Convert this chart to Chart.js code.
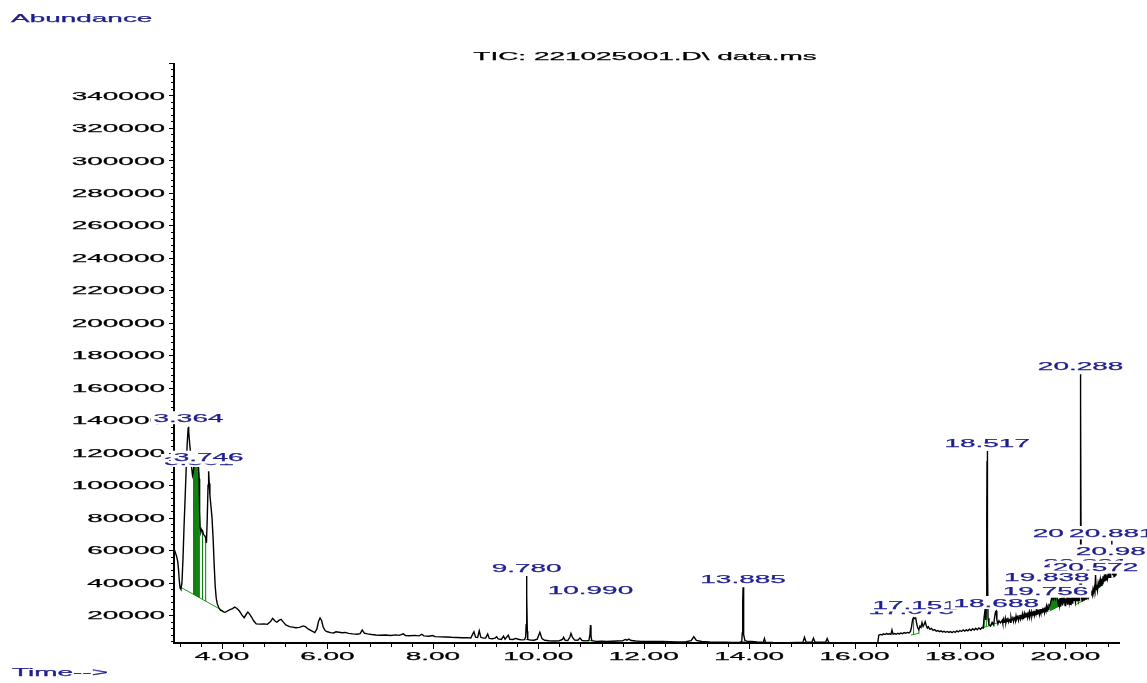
<!DOCTYPE html>
<html>
<head>
<meta charset="utf-8">
<script src="https://cdn.jsdelivr.net/npm/chart.js@4.4.1/dist/chart.umd.min.js"></script>
<style>
  html, body { margin: 0; padding: 0; background: #fff; overflow: hidden; }
  canvas { display: block; }
</style>
</head>
<body>
<canvas id="tic" width="1147" height="683"></canvas>
<script>
// ---- Total ion chromatogram: [retention time (min), abundance] ----
const solventFront = [
  [3.100, 60000], [3.120, 58000], [3.140, 56000], [3.160, 53000], [3.175, 48000], [3.190, 41000],
  [3.205, 36500], [3.220, 35800], [3.240, 40000], [3.260, 55000], [3.280, 75000], [3.300, 92000],
  [3.320, 110000], [3.340, 126000], [3.355, 134000], [3.364, 136000], [3.372, 133000], [3.385, 126000],
  [3.400, 121000], [3.420, 112000], [3.440, 106000], [3.455, 108000], [3.470, 113000], [3.490, 117000],
  [3.510, 118000], [3.530, 116000], [3.550, 114000], [3.565, 104000], [3.575, 84000], [3.585, 74000],
  [3.600, 71000], [3.615, 72500], [3.630, 72000], [3.650, 69500], [3.670, 69000], [3.690, 67500],
  [3.705, 64500], [3.720, 80000], [3.735, 100000], [3.746, 108600], [3.758, 101000], [3.770, 94000],
  [3.790, 87000], [3.810, 80000], [3.830, 68000], [3.850, 52000], [3.870, 38000], [3.890, 30500],
  [3.910, 27000], [3.940, 24500], [3.970, 23000], [4.000, 22600], [4.030, 22000], [4.060, 21700]
];
const earlyRun = [
  [4.100, 22500], [4.150, 23300], [4.200, 24000], [4.240, 24900], [4.280, 24200], [4.330, 22500],
  [4.380, 20000], [4.420, 18400], [4.460, 20500], [4.490, 21800], [4.530, 20300], [4.560, 18800],
  [4.600, 16500], [4.650, 14600], [4.720, 14400], [4.800, 14600], [4.860, 14300], [4.920, 16000],
  [4.960, 18000], [5.000, 16500], [5.040, 15600], [5.080, 16700], [5.120, 17400], [5.160, 15800],
  [5.210, 13900], [5.280, 12900], [5.340, 12600], [5.400, 12200], [5.470, 12400], [5.540, 13300],
  [5.580, 12900], [5.640, 11300], [5.700, 10200], [5.760, 9200], [5.800, 11500], [5.830, 16000],
  [5.860, 18200], [5.890, 16500], [5.920, 12500], [5.960, 10300], [6.000, 9700], [6.060, 9200],
  [6.120, 9000], [6.160, 9700], [6.220, 9400], [6.280, 9100], [6.340, 9300], [6.400, 8700],
  [6.480, 8400], [6.560, 8200], [6.620, 8600], [6.660, 10800], [6.700, 8900], [6.760, 8400],
  [6.840, 8000], [6.920, 7700], [7.000, 7600], [7.100, 7700], [7.200, 7400], [7.300, 7800],
  [7.360, 7500], [7.440, 8400], [7.480, 7400], [7.560, 7300], [7.660, 7500], [7.740, 7200],
  [7.790, 8200], [7.830, 7200], [7.920, 7000], [8.000, 7400], [8.040, 6700], [8.150, 6600],
  [8.250, 6500], [8.350, 6300], [8.450, 6200], [8.550, 6000], [8.650, 6100], [8.720, 5900],
  [8.760, 8600], [8.780, 9700], [8.810, 6400], [8.850, 6200], [8.880, 10300], [8.910, 6300],
  [8.960, 5800], [9.000, 5900], [9.040, 8300], [9.070, 5600], [9.130, 5400], [9.180, 5800],
  [9.210, 6600], [9.240, 5300], [9.300, 5000], [9.340, 7000], [9.370, 5200], [9.430, 7700],
  [9.460, 5100], [9.520, 5000], [9.570, 5600], [9.620, 5100], [9.680, 4700], [9.740, 4900],
  [9.760, 6500], [9.770, 14000], [9.776, 36000], [9.780, 44000], [9.785, 32000], [9.792, 10000],
  [9.800, 5000], [9.850, 4600], [9.920, 4500], [9.980, 5200], [10.030, 9400], [10.070, 5500],
  [10.120, 4500], [10.200, 4200], [10.300, 4000], [10.400, 4200], [10.460, 5000], [10.480, 6300],
  [10.510, 4400], [10.560, 4300], [10.600, 6500], [10.620, 8700], [10.650, 6200], [10.690, 4600],
  [10.750, 4500], [10.790, 5800], [10.830, 4300], [10.900, 4100], [10.960, 4300], [10.980, 8000],
  [10.990, 13800], [11.000, 7000], [11.015, 4300], [11.100, 3800]
];
const midRun = [
  [11.200, 3900], [11.300, 3800], [11.400, 3900], [11.500, 4000], [11.600, 4100], [11.650, 5000],
  [11.680, 4500], [11.720, 5200], [11.760, 4300], [11.850, 4000], [11.950, 3800], [12.050, 3700],
  [12.200, 3800], [12.350, 3700], [12.500, 3600], [12.650, 3500], [12.800, 3600], [12.900, 4200],
  [12.950, 6600], [13.000, 4400], [13.100, 3700], [13.250, 3400], [13.400, 3300], [13.550, 3300],
  [13.700, 3200], [13.820, 3300], [13.860, 3600], [13.870, 9000], [13.878, 28000], [13.885, 37200],
  [13.892, 26000], [13.900, 8000], [13.920, 4300], [13.960, 3900], [14.050, 3700], [14.150, 3400],
  [14.270, 3300], [14.290, 5600], [14.310, 3300], [14.450, 3100], [14.600, 3000], [14.750, 3000],
  [14.900, 3100], [15.020, 3200], [15.050, 6300], [15.080, 3400], [15.190, 3300], [15.220, 5800],
  [15.250, 3300], [15.450, 3300], [15.480, 5600], [15.510, 3200], [15.650, 3000], [15.850, 2900],
  [16.050, 2900], [16.250, 2850], [16.440, 2850]
];
const lateRun = [
  [16.460, 7600], [16.490, 8100], [16.520, 7800], [16.550, 8400], [16.580, 8000], [16.610, 8700],
  [16.630, 8200], [16.660, 8500], [16.690, 8100], [16.710, 10800], [16.730, 8300], [16.760, 8600],
  [16.790, 8200], [16.820, 8800], [16.850, 8400], [16.880, 8900], [16.910, 8500], [16.940, 9200],
  [16.970, 8800], [17.000, 9300], [17.030, 9000], [17.060, 9800], [17.080, 12500], [17.100, 17000],
  [17.120, 18600], [17.140, 17800], [17.160, 18200], [17.180, 14500], [17.200, 12000], [17.220, 11000],
  [17.240, 13200], [17.260, 12400], [17.280, 15300], [17.300, 13000], [17.320, 14200], [17.340, 15900],
  [17.360, 13500], [17.380, 12000], [17.400, 12800], [17.430, 11200], [17.460, 11800], [17.490, 10600],
  [17.520, 11000], [17.550, 10100], [17.580, 10500], [17.610, 9800], [17.640, 10300], [17.670, 9600],
  [17.700, 10000], [17.730, 9400], [17.760, 9900], [17.790, 9300], [17.820, 9800], [17.850, 9200],
  [17.880, 9900], [17.910, 9400], [17.940, 10300], [17.970, 9700], [18.000, 10500], [18.030, 9900],
  [18.060, 10800], [18.090, 10100], [18.120, 10900], [18.150, 10300], [18.180, 11300], [18.210, 10500],
  [18.240, 11600], [18.270, 10800], [18.300, 11900], [18.330, 11000], [18.360, 12100], [18.390, 11300],
  [18.420, 12400], [18.440, 12000], [18.460, 19000], [18.475, 23000], [18.490, 17000], [18.500, 28000],
  [18.508, 80000], [18.513, 115000], [18.517, 121000], [18.521, 112000], [18.526, 60000], [18.532, 18000],
  [18.550, 14000], [18.580, 13200], [18.610, 15500], [18.640, 13800], [18.660, 19500], [18.675, 22000],
  [18.688, 22500], [18.700, 17000], [18.720, 14500], [18.740, 16500], [18.770, 15200]
];
const tailRun = [
  [18.800, 16800], [18.812, 14900], [18.824, 17300], [18.836, 15600], [18.848, 16200], [18.860, 18100],
  [18.872, 15300], [18.884, 17000], [18.896, 16100], [18.908, 18400], [18.920, 15800], [18.932, 16900],
  [18.944, 17800], [18.956, 15500], [18.968, 18600], [18.980, 16700], [18.992, 17400], [19.004, 19100],
  [19.016, 16200], [19.028, 17800], [19.040, 18900], [19.052, 16600], [19.064, 19400], [19.076, 17300],
  [19.088, 18100], [19.100, 19900], [19.112, 16900], [19.124, 18600], [19.136, 20100], [19.148, 17600],
  [19.160, 19200], [19.172, 18300], [19.184, 20600], [19.196, 17800], [19.208, 19500], [19.220, 21000],
  [19.232, 18200], [19.244, 20300], [19.256, 19100], [19.268, 21400], [19.280, 18600], [19.292, 20800],
  [19.304, 19600], [19.316, 21900], [19.328, 19000], [19.340, 20400], [19.352, 22100], [19.364, 19300],
  [19.376, 21200], [19.388, 20000], [19.400, 22600], [19.412, 19700], [19.424, 21500], [19.436, 20600],
  [19.448, 23000], [19.460, 20100], [19.472, 22300], [19.484, 21000], [19.496, 23400], [19.508, 20500],
  [19.520, 22800], [19.532, 21400], [19.544, 23900], [19.556, 21000], [19.568, 23200], [19.580, 22000],
  [19.592, 24500], [19.604, 21600], [19.616, 23800], [19.628, 22700], [19.640, 25200], [19.652, 22400],
  [19.664, 24600], [19.676, 23500], [19.688, 26000], [19.700, 25500], [19.720, 27500], [19.740, 30500],
  [19.756, 31000], [19.770, 29500], [19.790, 31500], [19.810, 30000], [19.825, 34000], [19.838, 38500],
  [19.850, 30000], [19.862, 25500], [19.874, 29800], [19.886, 26300], [19.898, 30500], [19.910, 25200],
  [19.922, 28900], [19.934, 31000], [19.946, 26000], [19.958, 29600], [19.970, 27200], [19.982, 31300],
  [19.994, 25800], [20.006, 30200], [20.018, 27600], [20.030, 31500], [20.042, 26400], [20.054, 29900],
  [20.066, 28100], [20.078, 31800], [20.090, 26700], [20.102, 30600], [20.114, 28400], [20.126, 32000],
  [20.138, 27000], [20.150, 30900], [20.162, 28800], [20.174, 31600], [20.190, 28000], [20.202, 31200],
  [20.214, 28600], [20.226, 30700], [20.238, 29200], [20.250, 31400], [20.262, 28900], [20.270, 29500],
  [20.278, 42000], [20.283, 140000], [20.288, 168300], [20.293, 150000], [20.298, 60000], [20.305, 31000],
  [20.316, 28800], [20.328, 32300], [20.340, 29600], [20.352, 31900], [20.364, 30200], [20.380, 32200],
  [20.392, 29800], [20.404, 33000], [20.416, 30600], [20.428, 32900], [20.440, 31200], [20.452, 34100],
  [20.464, 31500], [20.476, 33800], [20.488, 32300], [20.500, 35200], [20.512, 32600], [20.524, 35800],
  [20.536, 33900], [20.548, 36600], [20.560, 34800], [20.572, 44600], [20.584, 35800], [20.596, 38600],
  [20.608, 35400], [20.620, 39300], [20.632, 36800], [20.644, 40100], [20.656, 37300], [20.668, 41500],
  [20.680, 38400], [20.692, 42300], [20.704, 39000], [20.716, 43800], [20.728, 40200], [20.740, 44900],
  [20.752, 41300], [20.764, 45200], [20.776, 41800], [20.788, 44600], [20.800, 42500], [20.812, 45800],
  [20.824, 42900], [20.836, 46000], [20.848, 43200], [20.860, 45100], [20.875, 58000], [20.881, 65800],
  [20.888, 50000], [20.900, 44500], [20.912, 46500], [20.924, 43800], [20.936, 47200], [20.948, 44600],
  [20.960, 47800], [20.975, 52000], [20.981, 54500], [20.990, 47500], [21.000, 46500]
];

// ---- Integration: baselines [t1, v1, t2, v2] and drop lines ----
const baselineSegs = [
  [3.203, 37400, 4.025, 22500], [9.765, 4900, 9.800, 4900], [10.975, 4300, 11.015, 4300],
  [13.860, 3400, 13.920, 3700], [17.070, 7700, 17.230, 8800], [18.440, 12200, 18.770, 15900],
  [19.700, 22500, 19.880, 25500], [20.200, 26500, 20.460, 31000], [20.520, 33500, 20.720, 39000],
  [20.900, 43000, 21.000, 46500]
];
const dropTimes = [3.46, 3.47, 3.48, 3.49, 3.50, 3.51, 3.52, 3.53, 3.54, 3.55, 3.56, 3.57, 3.63, 3.69,
  17.12, 17.22, 18.46, 18.50,
  19.72, 19.73, 19.74, 19.75, 19.76, 19.77, 19.78, 19.79, 19.80, 19.81, 19.82, 19.83, 19.84,
  20.46, 20.72];
const dropTops = [109000, 113000, 115000, 117000, 117500, 118000, 117000, 116000, 115000, 114000, 108000, 94000, 72000, 67500,
  18600, 11000, 19000, 28000,
  27500, 29000, 30500, 30800, 30700, 29500, 30500, 31500, 30800, 30000, 32500, 36000, 35000,
  33500, 43500];
const dropBases = [32730, 32550, 32370, 32190, 32000, 31820, 31640, 31460, 31280, 31100, 30910, 30730, 29640, 28550,
  8040, 8730, 12400, 12900,
  22830, 23000, 23170, 23330, 23500, 23670, 23830, 24000, 24170, 24330, 24500, 24670, 24830,
  31000, 39000];

// ---- Peak annotations (retention times), in drawing order ----
const peakLabels = ['3.561', '3.364', '3.746', '9.780', '10.990', '13.885', '17.075', '17.151', '18.688',
  '18.517', '20.391', '20.572', '19.838', '19.756', '20.190', '20.881', '20.981', '20.288'];
// label placement: pixels above the apex, horizontal nudge
const labelLift  = [2, 9, 14, 8, 35, 8, 17, 13, 8.5, 8, 32, 8, 8, 6, 69.4, 8, 8, 8];
const labelShift = [0, 0, 0, 0, 0, 0, 0, 0, 0, 0, 0, 0, -10, -7, 0, 0, 1.5, 0];

// ---- Axis ticks ----
const xTickLabels = ['4.00', '6.00', '8.00', '10.00', '12.00', '14.00', '16.00', '18.00', '20.00'];
const yTickLabels = ['20000', '40000', '60000', '80000', '100000', '120000', '140000', '160000', '180000',
  '200000', '220000', '240000', '260000', '280000', '300000', '320000', '340000'];

const trace = [...solventFront, ...earlyRun, ...midRun, ...lateRun, ...tailRun].map(p => ({ x: p[0], y: p[1] }));

const baselinePts = [];
baselineSegs.forEach(s => {
  baselinePts.push({ x: s[0], y: s[1] }, { x: s[2], y: s[3] }, { x: s[2], y: null });
});
const dropPts = [];
dropTimes.forEach((t, i) => {
  dropPts.push({ x: t, y: dropBases[i] }, { x: t, y: dropTops[i] }, { x: t, y: null });
});

function apexNear(t) {
  let best = -Infinity;
  trace.forEach(p => { if (Math.abs(p.x - t) <= 0.012 && p.y > best) best = p.y; });
  return best;
}

// ChemStation-style wide text
const SX = 2.43;
const FONT = '11.5px "Liberation Sans", Arial, sans-serif';
const CAP = 4.1;
const BLUE = '#1f1f8f';

function wideText(ctx, s, x, y, align, color) {
  ctx.save();
  ctx.font = FONT;
  ctx.fillStyle = color;
  ctx.strokeStyle = color;
  ctx.lineWidth = 0.25;
  ctx.textBaseline = 'alphabetic';
  ctx.textAlign = align;
  ctx.translate(x, y + CAP);
  ctx.scale(SX, 1);
  ctx.fillText(s, 0, 0);
  ctx.strokeText(s, 0, 0);
  ctx.restore();
}
function wideWidth(ctx, s) {
  ctx.save();
  ctx.font = FONT;
  const w = ctx.measureText(s).width * SX;
  ctx.restore();
  return w;
}

const chemstationFrame = {
  id: 'chemstationFrame',
  afterDraw(chart) {
    const ctx = chart.ctx;
    const xs = chart.scales.x, ys = chart.scales.y;
    const a = chart.chartArea;

    // axes
    ctx.save();
    ctx.strokeStyle = '#000';
    ctx.lineWidth = 2;
    ctx.beginPath();
    ctx.moveTo(a.left, a.top);
    ctx.lineTo(a.left, a.bottom);
    ctx.lineTo(a.right, a.bottom);
    ctx.stroke();

    // tick marks
    ctx.lineWidth = 1;
    ctx.beginPath();
    for (let k = 1; k * 4000 <= ys.max; k++) {
      const py = Math.round(ys.getPixelForValue(k * 4000)) + 0.5;
      const len = (k % 5 === 0) ? 5 : 3;
      ctx.moveTo(a.left - len, py);
      ctx.lineTo(a.left, py);
    }
    for (let k = 8; k * 0.4 <= xs.max + 1e-6; k++) {
      const px = Math.round(xs.getPixelForValue(k * 0.4)) + 0.5;
      const len = (k % 5 === 0) ? 6 : 4;
      ctx.moveTo(px, a.bottom);
      ctx.lineTo(px, a.bottom + len);
    }
    ctx.stroke();
    ctx.restore();

    // tick labels
    yTickLabels.forEach(s => {
      wideText(ctx, s, a.left - 9, ys.getPixelForValue(parseFloat(s)), 'right', '#000');
    });
    xTickLabels.forEach(s => {
      wideText(ctx, s, xs.getPixelForValue(parseFloat(s)), a.bottom + 13, 'center', '#000');
    });

    // titles
    wideText(ctx, 'Abundance', 11, 17.5, 'left', BLUE);
    wideText(ctx, 'Time-->', 12, 672, 'left', BLUE);
    wideText(ctx, 'TIC: 221025001.D\\ data.ms', 645, 56, 'center', '#000');

    // peak labels on white boxes
    peakLabels.forEach((s, i) => {
      const t = parseFloat(s);
      const cx = xs.getPixelForValue(t) + labelShift[i];
      const cy = ys.getPixelForValue(apexNear(t)) - labelLift[i];
      const w = wideWidth(ctx, s);
      ctx.fillStyle = '#fff';
      ctx.fillRect(cx - w / 2 - 3, cy - 6.5, w + 6, 13);
      wideText(ctx, s, cx, cy, 'center', BLUE);
    });
  }
};

new Chart(document.getElementById('tic'), {
  type: 'line',
  data: {
    datasets: [
      { data: trace, borderColor: '#000', borderWidth: 1.4, pointRadius: 0, tension: 0, fill: false },
      { data: dropPts, borderColor: '#0a7f0a', borderWidth: 1, pointRadius: 0, spanGaps: false, fill: false },
      { data: baselinePts, borderColor: '#18a018', borderWidth: 1, pointRadius: 0, spanGaps: false, fill: false }
    ]
  },
  options: {
    responsive: false,
    devicePixelRatio: 1,
    animation: false,
    events: [],
    layout: { padding: { left: 174, top: 63, right: 27, bottom: 40 } },
    plugins: { legend: { display: false }, tooltip: { enabled: false }, title: { display: false } },
    scales: {
      x: { type: 'linear', min: 3.089, max: 21.036, display: false },
      y: { type: 'linear', min: 2800, max: 360000, display: false }
    }
  },
  plugins: [chemstationFrame]
});
</script>
</body>
</html>
